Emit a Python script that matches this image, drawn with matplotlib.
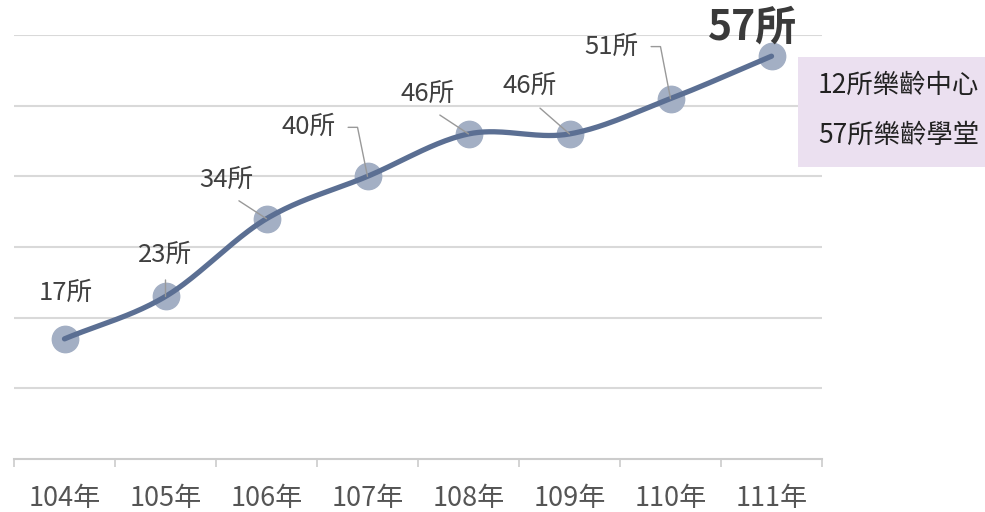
import matplotlib.pyplot as plt
import numpy as np
from matplotlib.patches import Rectangle

plt.rcParams['font.family'] = ['Noto Sans CJK TC', 'DejaVu Sans']

years = ['104年', '105年', '106年', '107年', '108年', '109年', '110年', '111年']
counts = [17, 23, 34, 40, 46, 46, 51, 57]
labels = [f'{c}所' for c in counts]
box_lines = ['12所樂齡中心', '57所樂齡學堂']

# label offsets in pixels (dx, dy) from each point, and leader type
label_offsets = [(1, 46), (0, 42), (-40, 39), (-59, 49), (-41, 40), (-40, 48), (-59, 52), (-19, 29)]
leader_kind = [None, 'down', 'down', 'bent', 'down', 'down', 'bent', None]

line_color = '#5b6f93'
marker_color = '#a3afc4'
grid_color = '#d9d9d9'


def smooth(xs, ys, n=40):
    xs = np.asarray(xs, float)
    ys = np.asarray(ys, float)
    m = np.zeros_like(ys)
    m[1:-1] = (ys[2:] - ys[:-2]) / 2
    m[0] = ys[1] - ys[0]
    m[-1] = ys[-1] - ys[-2]
    out_x, out_y = [], []
    for i in range(len(xs) - 1):
        t = np.linspace(0, 1, n)
        h00 = 2 * t**3 - 3 * t**2 + 1
        h10 = t**3 - 2 * t**2 + t
        h01 = -2 * t**3 + 3 * t**2
        h11 = t**3 - t**2
        out_x.append(xs[i] + t)
        out_y.append(h00 * ys[i] + h10 * m[i] + h01 * ys[i + 1] + h11 * m[i + 1])
    return np.concatenate(out_x), np.concatenate(out_y)


fig = plt.figure(figsize=(9.85, 5.12), dpi=100)
ax = fig.add_axes([14 / 985, (512 - 459) / 512, 808 / 985, 424 / 512])

x = np.arange(len(years))
ax.set_xlim(-0.5, len(years) - 0.5)
ax.set_ylim(0, 60)

for g in range(10, 61, 10):
    ax.axhline(g, color=grid_color, lw=1.5, zorder=1)

for s in ['top', 'right', 'left']:
    ax.spines[s].set_visible(False)
ax.spines['bottom'].set_color('#cccccc')
ax.spines['bottom'].set_linewidth(1.5)
ax.set_yticks([])
ax.set_xticks(np.arange(-0.5, len(years), 1))
ax.set_xticklabels([])
ax.tick_params(axis='x', which='major', length=6, width=1.2, color='#cccccc')
ax.set_xticks(x, minor=True)
ax.set_xticklabels(years, minor=True, fontsize=19.5, color='#555555')
ax.tick_params(axis='x', which='minor', length=0, pad=19)

ax.plot(x, counts, 'o', ms=19, color=marker_color, zorder=3, clip_on=False)
sx, sy = smooth(x, counts)
ax.plot(sx, sy, color=line_color, lw=3.8, solid_capstyle='round', zorder=4, clip_on=False)

for i, (lab, off, kind) in enumerate(zip(labels, label_offsets, leader_kind)):
    if i == len(labels) - 1:
        ax.annotate(lab, (x[i], counts[i]), xytext=off, textcoords='offset pixels',
                    ha='center', va='center', fontsize=29.5, fontweight='bold',
                    color='#3a3a3a', zorder=5, annotation_clip=False)
        continue
    props = None
    if kind == 'down':
        props = dict(arrowstyle='-', color='#999999', lw=1, relpos=(0.5, 0),
                     shrinkA=7, shrinkB=0)
    elif kind == 'bent':
        ang = np.degrees(np.arctan2(off[1], -10))
        props = dict(arrowstyle='-', color='#999999', lw=1, relpos=(1, 0.5),
                     shrinkA=7, shrinkB=0,
                     connectionstyle=f'angle,angleA=0,angleB={ang:.1f},rad=0')
    ax.annotate(lab, (x[i], counts[i]), xytext=off, textcoords='offset pixels',
                ha='center', va='center', fontsize=18.5, color='#404040',
                arrowprops=props, zorder=5, annotation_clip=False)

fig.patches.append(Rectangle((798 / 985, (512 - 167) / 512), 187 / 985, 110 / 512,
                             transform=fig.transFigure, facecolor='#ebe0f0',
                             edgecolor='none', zorder=0))
for k, txt in enumerate(box_lines):
    fig.text(818 / 985, (512 - 85 - 50 * k) / 512, txt, ha='left', va='center',
             fontsize=19, color='#222222')

fig.savefig('out.png', dpi=100)
